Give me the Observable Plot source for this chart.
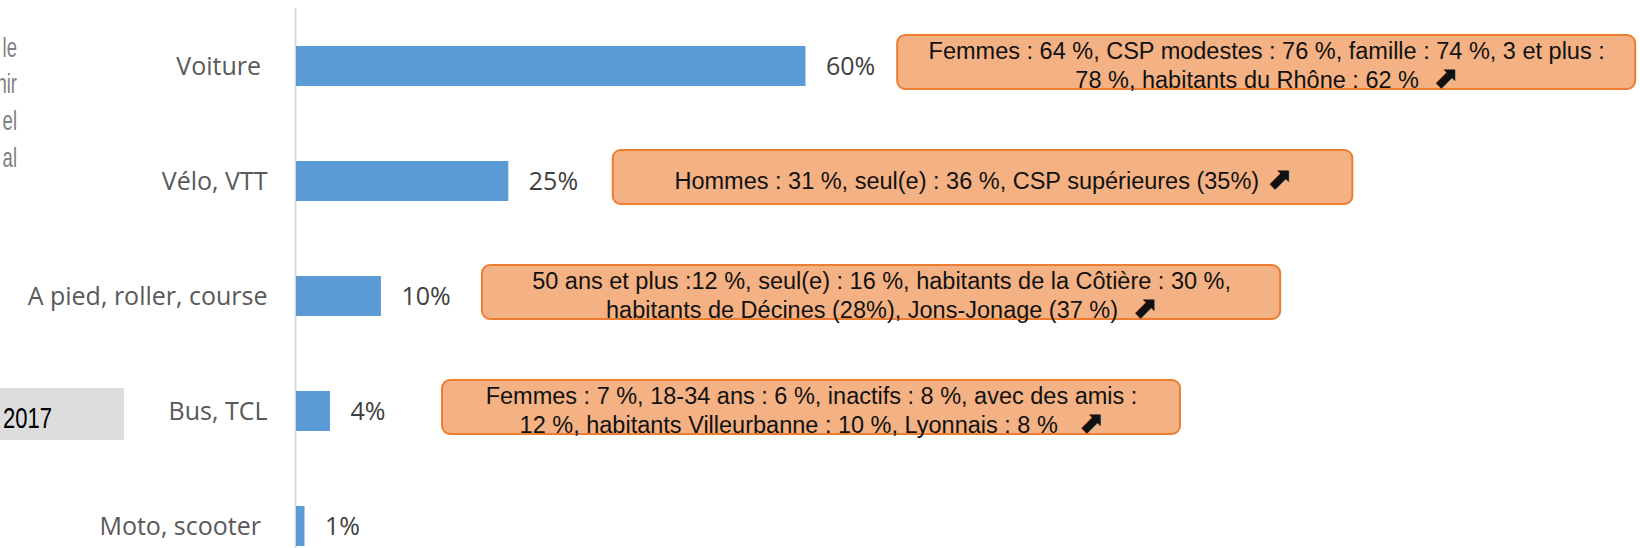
<!DOCTYPE html>
<html>
<head>
<meta charset="utf-8">
<script src="https://cdn.jsdelivr.net/npm/d3@7"></script>
<script src="https://cdn.jsdelivr.net/npm/@observablehq/plot@0.6"></script>
<style>
  html, body { margin: 0; padding: 0; background: #ffffff; }
  #chart svg { display: block; }
</style>
</head>
<body>
<div id="chart"></div>
<script>
// ---- data ----
const categories = ["Voiture\u00a0", "Vélo, VTT", "A pied, roller, course", "Bus, TCL", "Moto, scooter\u00a0"];
const shares = [60, 25, 10, 4, 1];
const shareLabels = ["60%", "25%", "10%", "4%", "1%"];

const arrow = "⬈";
const noteCategories = ["Voiture\u00a0", "Vélo, VTT", "A pied, roller, course", "Bus, TCL"];
const noteTexts = [
  "Femmes : 64 %, CSP modestes : 76 %, famille : 74 %, 3 et plus :\n78 %, habitants du Rhône : 62 %\u00a0\u00a0" + arrow,
  "Hommes : 31 %, seul(e) : 36 %, CSP supérieures (35%) " + arrow,
  "50 ans et plus :12 %, seul(e) : 16 %, habitants de la Côtière : 30 %,\nhabitants de Décines (28%), Jons-Jonage (37 %)\u00a0\u00a0" + arrow,
  "Femmes : 7 %, 18-34 ans : 6 %, inactifs : 8 %, avec des amis :\n12 %, habitants Villeurbanne : 10 %, Lyonnais : 8 %\u00a0\u00a0\u00a0" + arrow
];
// annotation box extents, in units of the x scale (%)
const noteStart = [70.8, 37.3, 21.9, 17.2];
const noteEnd = [157.7, 124.4, 115.9, 104.1];

// fragments of a neighbouring panel, cropped at the left edge
const sideLines = ["le", "nir", "el", "al"];
const yearLabel = "2017";

// ---- tables ----
const rows = categories.map((c, i) => ({cat: c, share: shares[i], label: shareLabels[i]}));
const notes = noteCategories.map((c, i) => ({
  cat: c, text: noteTexts[i], x1: noteStart[i], x2: noteEnd[i], mid: (noteStart[i] + noteEnd[i]) / 2
}));

const narrowText = (g, x, y, str, size, fill, anchor, sx) => {
  g.append("g")
    .attr("transform", `translate(${x},${y}) scale(${sx},1)`)
    .append("text")
    .style("font-family", "'Liberation Sans', Arial, sans-serif")
    .style("font-size", size + "px")
    .style("fill", fill)
    .attr("text-anchor", anchor)
    .text(str);
};

const decorations = () => {
  const g = d3.create("svg:g");
  sideLines.forEach((s, i) => narrowText(g, 17, 56.7 + i * 36.7, s, 28, "#808080", "end", 0.66));
  g.append("rect").attr("x", 0).attr("y", 388).attr("width", 124).attr("height", 52).attr("fill", "#dddddd");
  narrowText(g, 3, 428, yearLabel, 29, "#000000", "start", 0.76);
  return g.node();
};

const chart = Plot.plot({
  width: 1640,
  height: 548,
  marginLeft: 296,
  marginRight: 834.5,
  marginTop: 8,
  marginBottom: 0,
  style: {fontFamily: "'Open Sans', sans-serif", background: "#ffffff", overflow: "visible"},
  x: {domain: [0, 60], axis: null},
  y: {domain: categories, range: [7.15, 584.65], paddingInner: 0.649, paddingOuter: 0.3245, axis: null},
  marks: [
    Plot.ruleX([0], {stroke: "#d9d9d9", strokeWidth: 2, dx: -1}),
    Plot.barX(rows, {x: "share", y: "cat", fill: "#5b9bd5"}),
    Plot.axisY({tickSize: 0, tickPadding: 29, fontSize: 25, color: "#595959", label: null}),
    Plot.text(rows, {x: "share", y: "cat", text: "label", textAnchor: "start", dx: 20, fontSize: 25, fill: "#404040"}),
    Plot.barX(notes, {x1: "x1", x2: "x2", y: "cat", insetTop: -11, insetBottom: -3, rx: 8,
      fill: "#f4b183", stroke: "#ed7d31", strokeWidth: 2}),
    Plot.text(notes, {x: "mid", y: "cat", text: "text", dy: -2, fontSize: 23.5, lineHeight: 1.21,
      fontFamily: "'Liberation Sans', Arial, sans-serif", fill: "#111111", className: "notes"}),
    decorations
  ]
});

// enlarge the trend arrow glyph inside the annotation lines
d3.select(chart).selectAll("text").each(function () {
  const el = d3.select(this);
  const parts = el.selectAll("tspan").size() ? el.selectAll("tspan").nodes() : [this];
  parts.forEach(node => {
    const t = node.textContent;
    if (t.endsWith(arrow)) {
      node.textContent = t.slice(0, -arrow.length);
      d3.select(node).append("tspan")
        .style("font-size", "31px")
        .style("font-family", "'DejaVu Sans', sans-serif")
        .style("font-weight", "bold")
        .text(arrow);
    }
  });
});

document.getElementById("chart").appendChild(chart);
</script>
</body>
</html>
